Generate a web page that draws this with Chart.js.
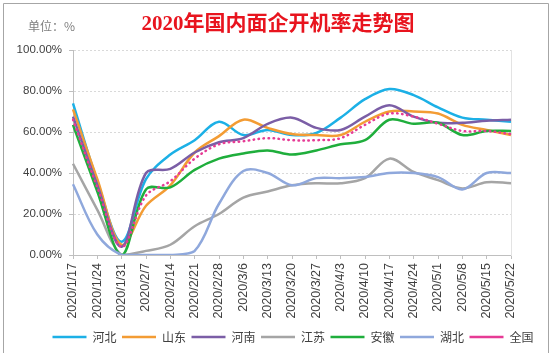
<!DOCTYPE html>
<html>
<head>
<meta charset="utf-8">
<script src="https://cdn.jsdelivr.net/npm/chart.js@4.4.1/dist/chart.umd.min.js"></script>
<style>
  html, body { margin: 0; padding: 0; background: #fff; }
  #wrap { width: 557px; height: 353px; position: relative; }
</style>
</head>
<body>
<div id="wrap"><canvas id="rateChart"></canvas></div>
<script>
// weekly dates
const weeks = ['2020/1/17', '2020/1/24', '2020/1/31', '2020/2/7', '2020/2/14', '2020/2/21', '2020/2/28',
  '2020/3/6', '2020/3/13', '2020/3/20', '2020/3/27', '2020/4/3', '2020/4/10', '2020/4/17',
  '2020/4/24', '2020/5/1', '2020/5/8', '2020/5/15', '2020/5/22'];

// 开机率, %
const hebei    = [74, 36, 6.5, 37, 49, 56, 65, 58.5, 61, 58.5, 59.5, 67, 76, 81, 78, 72, 67, 66, 65];
const shandong = [71, 37, 5, 24, 34, 50, 58, 66, 62, 59, 58.5, 58.5, 65, 70, 70, 69, 63.5, 61, 58.5];
const henan    = [67.5, 34, 4, 40, 42, 50, 55, 57, 64, 67, 62, 61, 67.5, 73, 67.5, 64.5, 64.5, 65.5, 66];
const jiangsu  = [44.5, 22, 0, 2, 5, 14, 20, 28, 31, 34, 35, 35, 37.5, 47, 40.5, 36.5, 32.5, 35.5, 35];
const anhui    = [63.5, 31, 0, 32, 33, 41.5, 47, 49.5, 51, 49, 51, 54, 56, 66, 64, 64.5, 58.5, 60.5, 60.5];
const hubei    = [34.5, 10, 0, 0, 0, 2, 25, 41, 40, 34, 37.5, 37.5, 38, 40, 40, 38, 32, 40, 40];
const quanguo  = [66, 33, 4, 29, 36, 47, 54, 55.5, 57, 56, 56, 57, 63.5, 69, 67.5, 64, 60.5, 60.5, 59];

const yTicks = [0, 20, 40, 60, 80, 100];

const series = [
  { name: '河北', data: hebei,    color: '#1cb0e6' },
  { name: '山东', data: shandong, color: '#f39c34' },
  { name: '河南', data: henan,    color: '#7b5ea6' },
  { name: '江苏', data: jiangsu,  color: '#a5a5a5' },
  { name: '安徽', data: anhui,    color: '#1fae3c' },
  { name: '湖北', data: hubei,    color: '#8fa8dc' },
  { name: '全国', data: quanguo,  color: '#e63b95', dotted: true }
];

// frame, title and unit text
const decor = {
  id: 'decor',
  beforeDraw(chart) {
    const ctx = chart.ctx;
    ctx.save();
    ctx.fillStyle = '#fff';
    ctx.fillRect(0, 0, chart.width, chart.height);
    ctx.strokeStyle = '#a6a6a6';
    ctx.lineWidth = 1;
    ctx.beginPath();
    ctx.moveTo(3.5, chart.height + 2);
    ctx.lineTo(3.5, 3.5);
    ctx.lineTo(548.5, 3.5);
    ctx.lineTo(548.5, chart.height + 2);
    ctx.stroke();
    ctx.restore();
  },
  afterDraw(chart) {
    const ctx = chart.ctx;
    ctx.save();
    ctx.textBaseline = 'middle';
    ctx.fillStyle = '#e8141e';
    ctx.textAlign = 'center';
    ctx.font = "bold 21px 'Liberation Serif', 'Noto Sans CJK SC', serif";
    ctx.fillText('2020年国内面企开机率走势图', 278, 25);
    ctx.fillStyle = '#7f7f7f';
    ctx.textAlign = 'left';
    ctx.font = "12px 'Noto Sans CJK SC', sans-serif";
    ctx.fillText('单位：%', 28, 26);
    ctx.restore();
  }
};

const ctx = document.getElementById('rateChart').getContext('2d');

window.myChart = new Chart(ctx, {
  type: 'line',
  data: {
    labels: weeks,
    datasets: series.map((s, i) => ({
      label: s.name,
      data: s.data,
      borderColor: s.color,
      backgroundColor: s.color,
      borderWidth: s.dotted ? 2.5 : 2.5,
      borderDash: s.dotted ? [0.5, 4.5] : [],
      borderCapStyle: s.dotted ? 'round' : 'butt',
      pointRadius: 0,
      pointHoverRadius: 0,
      tension: 0.35,
      fill: false,
      order: series.length - i   // later series on top, like the original
    }))
  },
  options: {
    responsive: true,
    maintainAspectRatio: false,
    animation: false,
    layout: { padding: { left: 0, right: 18, top: 50, bottom: 0 } },
    plugins: {
      legend: {
        position: 'bottom',
        align: 'end',
        labels: {
          usePointStyle: true,
          pointStyle: 'line',
          pointStyleWidth: 34,
          padding: 5.5,
          color: '#404040',
          font: { size: 12, family: "'Noto Sans CJK SC', sans-serif" },
          sort: (a, b) => a.datasetIndex - b.datasetIndex
        }
      },
      tooltip: { enabled: false }
    },
    scales: {
      x: {
        offset: false,
        afterFit: scale => { scale.height = 70.5; },
        grid: { drawOnChartArea: false, drawTicks: true, tickLength: 4, color: '#bfbfbf' },
        border: { color: '#bfbfbf' },
        ticks: {
          autoSkip: false,
          minRotation: 90,
          maxRotation: 90,
          padding: 4,
          color: '#404040',
          font: { size: 12.5, family: "'Liberation Sans', Arial, sans-serif" }
        }
      },
      y: {
        min: 0,
        max: 100,
        afterFit: scale => { scale.width = 73; },
        afterBuildTicks: scale => { scale.ticks = yTicks.map(v => ({ value: v })); },
        grid: { color: '#d9d9d9', tickLength: 4, tickColor: '#bfbfbf' },
        border: { color: '#bfbfbf', dash: [2, 2] },
        ticks: {
          padding: 7,
          color: '#404040',
          font: { size: 11.5, family: "'Liberation Sans', Arial, sans-serif" },
          callback: v => v.toFixed(2) + '%'
        }
      },
      y2: {
        position: 'right',
        min: 0,
        max: 100,
        afterFit: scale => { scale.width = 28; },
        grid: { drawOnChartArea: false, drawTicks: false },
        border: { color: '#e3e3e3' },
        ticks: { display: false }
      }
    }
  },
  plugins: [decor]
});
</script>
</body>
</html>
